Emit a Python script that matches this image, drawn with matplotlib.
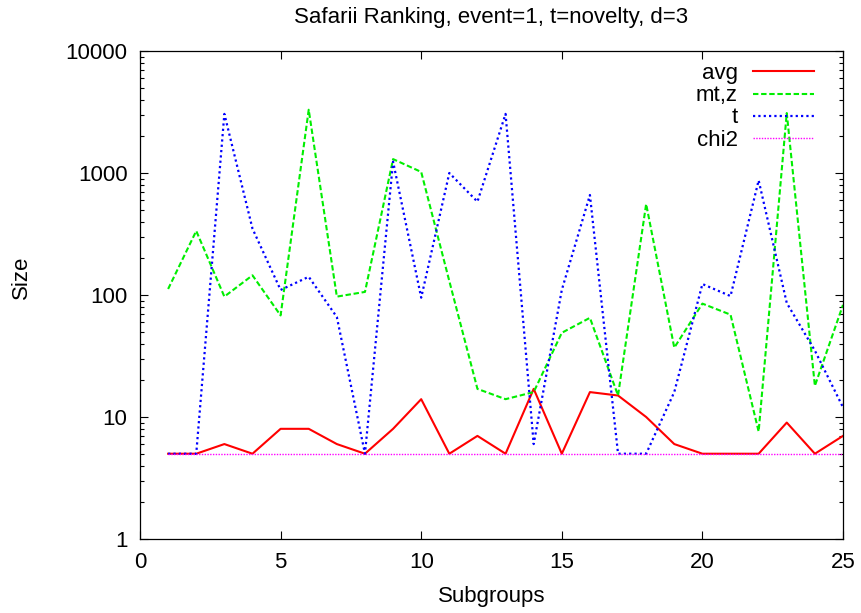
import matplotlib
matplotlib.use("Agg")
import matplotlib.pyplot as plt
from matplotlib.ticker import FixedLocator, LogLocator, NullFormatter

plt.rcParams['font.family'] = ['Liberation Sans', 'DejaVu Sans']

# subgroup index
subgroups = list(range(1, 26))

# sizes per measure
avg = [5, 5, 6, 5, 8, 8, 6, 5, 8, 14, 5, 7, 5, 17, 5, 16, 15, 10, 6, 5, 5, 5, 9, 5, 7]
mt_z = [112, 335, 97, 145, 68, 3300, 97, 106, 1300, 1020, 130, 17, 14, 16, 49, 65,
        15, 557, 37, 85, 69, 7.6, 3100, 18, 83]
t = [5, 5, 3050, 350, 110, 141, 66, 5, 1240, 95, 1000, 582, 3050, 6, 110, 660,
     5, 5, 16, 123, 98, 870, 86, 35, 12]
chi2 = [5] * 25

series_labels = ['avg', 'mt,z', 't', 'chi2']

x_ticks = [0, 5, 10, 15, 20, 25]
y_ticks = [1, 10, 100, 1000, 10000]
y_tick_labels = ['1', '10', '100', '1000', '10000']


def main():
    fig = plt.figure(figsize=(8.61, 6.13), dpi=100)
    ax = fig.add_axes([140 / 861, 1 - 539 / 613, 703 / 861, 488 / 613])

    ax.plot(subgroups, avg, color='#ff0000', lw=1.5, label=series_labels[0])
    ax.plot(subgroups, mt_z, color='#00ee00', lw=1.5, dashes=(2.6, 1.3), label=series_labels[1])
    ax.plot(subgroups, t, color='#0000ff', lw=1.6, dashes=(1.0, 1.4), label=series_labels[2])
    ax.plot(subgroups, chi2, color='#ff00ff', lw=1.0, dashes=(1.0, 1.0), label=series_labels[3])

    ax.set_yscale('log')
    ax.set_xlim(0, 25)
    ax.set_ylim(1, 10000)

    ax.xaxis.set_major_locator(FixedLocator(x_ticks))
    ax.set_xticklabels([str(v) for v in x_ticks])
    ax.yaxis.set_major_locator(FixedLocator(y_ticks))
    ax.set_yticklabels(y_tick_labels)
    ax.yaxis.set_minor_locator(LogLocator(base=10, subs=range(2, 10)))
    ax.yaxis.set_minor_formatter(NullFormatter())

    ax.tick_params(which='both', direction='in', top=True, right=True, labelsize=16, width=0.8)
    ax.tick_params(which='major', length=6, pad=9)
    ax.tick_params(which='minor', length=3)
    for sp in ax.spines.values():
        sp.set_linewidth(0.9)

    ax.set_xlabel('Subgroups', fontsize=16, labelpad=10)
    fig.text(21 / 861, 1 - 277 / 613, 'Size', rotation=90, ha='center', va='center', fontsize=16)
    fig.text(491 / 861, 1 - 17 / 613, 'Safarii Ranking, event=1, t=novelty, d=3',
             ha='center', va='center', fontsize=16)

    ax.legend(loc='upper right', bbox_to_anchor=(0.9587, 0.975), frameon=False,
              markerfirst=False, fontsize=16, handlelength=2.75, handletextpad=0.68,
              labelspacing=0.05, borderpad=0, borderaxespad=0)

    fig.savefig('out.png', dpi=100)


if __name__ == "__main__":
    main()
